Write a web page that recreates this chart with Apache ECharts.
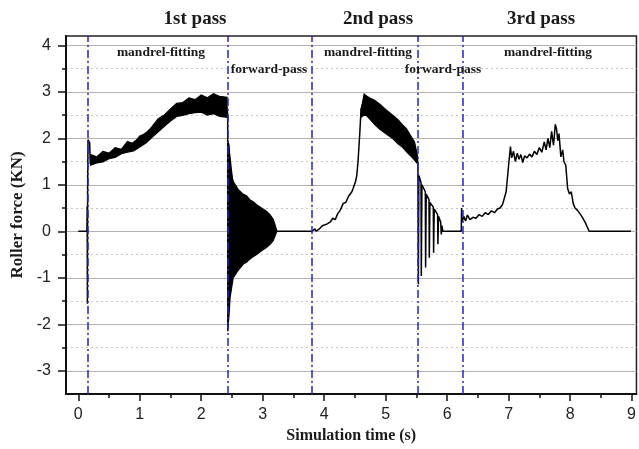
<!DOCTYPE html>
<html>
<head>
<meta charset="utf-8">
<script src="https://cdn.jsdelivr.net/npm/echarts@6/dist/echarts.min.js"></script>
<style>
  html, body { margin: 0; padding: 0; background: #fff; }
  #chart { width: 639px; height: 449px; }
</style>
</head>
<body>
<div id="chart"></div>
<script>
// main force trace, time (s) / force (kN)
const traceT = [0, 0.14, 0.145, 0.148, 0.152, 0.158, 0.185, 0.195,
  0.3, 0.79, 1.33, 1.8, 2.2, 2.42, 2.43, 2.432, 2.44, 2.6, 3.23,
  3.8, 3.85, 3.87, 3.92, 3.97, 4.0, 4.05, 4.1, 4.14, 4.18, 4.22, 4.26, 4.31, 4.35, 4.4, 4.45, 4.47, 4.51, 4.53, 4.55, 4.58, 4.6, 4.64,
  4.9, 5.23, 5.47, 5.52,
  5.525, 5.532, 5.54, 5.575, 5.58, 5.59, 5.645, 5.65, 5.66, 5.705, 5.71, 5.72, 5.775, 5.78, 5.79, 5.845, 5.85, 5.86, 5.895, 5.905, 5.915, 5.93,
  6.23, 6.235, 6.245, 6.27, 6.3, 6.33, 6.37, 6.42, 6.47, 6.52, 6.57, 6.62, 6.67, 6.72, 6.77, 6.82, 6.86, 6.9, 6.96, 7.0, 7.03,
  7.05, 7.08, 7.11, 7.14, 7.17, 7.2, 7.23, 7.26, 7.3, 7.34, 7.38, 7.42, 7.46, 7.5, 7.54, 7.58, 7.61, 7.64, 7.67, 7.7, 7.73, 7.76, 7.78, 7.8, 7.82, 7.85, 7.88, 7.9, 7.93,
  7.96, 7.99, 8.02, 8.05, 8.08, 8.12, 8.16, 8.2, 8.25, 8.31, 8.99];
const traceY = [0, 0, 0.55, -1.56, 1.0, 1.97, 1.9, 1.45,
  1.55, 1.8, 2.35, 2.7, 2.72, 2.65, 2.5, -2.15, 1.9, 0, 0,
  0, 0.05, 0, 0.05, 0.12, 0.08, 0.16, 0.2, 0.28, 0.25, 0.38, 0.45, 0.6, 0.62, 0.76, 0.85, 0.92, 1.07, 1.2, 1.49, 2.13, 2.63, 2.8,
  2.5, 2.06, 1.7, 1.5,
  1.35, -1.14, 1.2, 1.05, -0.96, 1.0, 0.85, -0.78, 0.8, 0.68, -0.57, 0.62, 0.52, -0.46, 0.48, 0.36, -0.28, 0.32, 0.2, -0.07, 0.12, 0,
  0, 0.5, 0.2, 0.32, 0.22, 0.35, 0.25, 0.3, 0.28, 0.36, 0.32, 0.4, 0.36, 0.44, 0.4, 0.48, 0.5, 0.57, 0.85, 1.42, 1.82,
  1.58, 1.72, 1.5, 1.68, 1.55, 1.65, 1.48, 1.62, 1.58, 1.66, 1.6, 1.72, 1.65, 1.8, 1.7, 1.92, 1.75, 2.0, 1.8, 2.15, 1.85, 2.3, 2.2, 1.95, 2.1, 1.6, 1.75, 1.5, 1.42,
  0.92, 0.8, 0.85, 0.6, 0.5, 0.45, 0.38, 0.3, 0.18, 0, 0];

// dense oscillation envelopes (upper / lower edge of the black bands)
const band1T = [0.2, 0.3, 0.4, 0.5, 0.6, 0.7, 0.8, 0.9, 1.0, 1.1, 1.2, 1.3, 1.4, 1.5, 1.6, 1.7, 1.8, 1.9, 2.0, 2.1, 2.2, 2.3, 2.42];
const band1Up = [1.65, 1.6, 1.72, 1.68, 1.8, 1.76, 1.93, 1.88, 2.05, 2.1, 2.25, 2.42, 2.5, 2.63, 2.75, 2.77, 2.87, 2.83, 2.93, 2.87, 2.96, 2.9, 2.88];
const band1Lo = [1.42, 1.47, 1.49, 1.56, 1.59, 1.67, 1.7, 1.73, 1.81, 1.9, 2.02, 2.14, 2.26, 2.37, 2.47, 2.49, 2.53, 2.55, 2.56, 2.5, 2.53, 2.47, 2.45];

const band2T = [2.43, 2.45, 2.47, 2.52, 2.6, 2.68, 2.74, 2.79, 2.85, 2.9, 2.98, 3.06, 3.12, 3.17, 3.2, 3.23];
const band2Up = [1.95, 1.85, 1.35, 1.07, 0.9, 0.8, 0.76, 0.68, 0.63, 0.57, 0.5, 0.43, 0.35, 0.26, 0.14, 0];
const band2Lo = [-2.13, -1.85, -1.42, -1.0, -0.84, -0.71, -0.66, -0.6, -0.54, -0.5, -0.42, -0.35, -0.28, -0.2, -0.1, 0];

const band3T = [4.6, 4.65, 4.69, 4.75, 4.82, 4.9, 5.0, 5.12, 5.2, 5.28, 5.34, 5.41, 5.47, 5.52];
const band3Up = [2.6, 2.95, 2.91, 2.86, 2.82, 2.74, 2.62, 2.49, 2.4, 2.28, 2.2, 2.05, 1.92, 1.6];
const band3Lo = [2.45, 2.5, 2.49, 2.4, 2.3, 2.2, 2.1, 1.99, 1.88, 1.8, 1.71, 1.62, 1.53, 1.45];

const passLines = [0.15, 2.43, 3.8, 5.53, 6.25];
const xMajor = [0, 1, 2, 3, 4, 5, 6, 7, 8, 9];
const xMinor = [0.5, 1.5, 2.5, 3.5, 4.5, 5.5, 6.5, 7.5, 8.5];
const yMajor = [-3, -2, -1, 0, 1, 2, 3, 4];
const yMinor = [-2.5, -1.5, -0.5, 0.5, 1.5, 2.5, 3.5];

const bands = [
  { t: band1T, up: band1Up, lo: band1Lo },
  { t: band2T, up: band2Up, lo: band2Lo },
  { t: band3T, up: band3Up, lo: band3Lo }
];

const chart = echarts.init(document.getElementById('chart'));
const serif = '"Liberation Serif", "DejaVu Serif", serif';
const sans = '"Liberation Sans", Arial, sans-serif';
const ink = '#1a1a1a';

function label(text, x, y, size) {
  return {
    type: 'text', x: x, y: y, z: 100,
    style: { text: text, font: 'bold ' + size + 'px ' + serif, fill: ink, align: 'center', verticalAlign: 'middle' }
  };
}

const option = {
  animation: false,
  grid: { left: 66, right: 2, top: 36, bottom: 52, show: true, borderColor: '#222', borderWidth: 1.5 },
  graphic: [
    label('1st pass', 195, 19, 19),
    label('2nd pass', 378, 19, 19),
    label('3rd pass', 541, 19, 19),
    label('mandrel-fitting', 161, 53, 13.5),
    label('forward-pass', 269, 70, 13.5),
    label('mandrel-fitting', 368, 53, 13.5),
    label('forward-pass', 443, 70, 13.5),
    label('mandrel-fitting', 548, 53, 13.5)
  ],
  xAxis: [{
    type: 'value', min: -0.2, max: 9.08, position: 'bottom',
    axisLine: { onZero: false, lineStyle: { color: '#111', width: 2 } },
    axisTick: { customValues: xMajor, length: 7, lineStyle: { color: '#111', width: 1.5 } },
    axisLabel: { customValues: xMajor, fontSize: 16, fontFamily: sans, color: '#222', margin: 13 },
    splitLine: { show: false },
    name: 'Simulation time (s)', nameLocation: 'middle', nameGap: 34,
    nameTextStyle: { fontFamily: serif, fontWeight: 'bold', fontSize: 16, color: ink }
  }, {
    type: 'value', min: -0.2, max: 9.08, position: 'bottom',
    axisLine: { show: false, onZero: false },
    axisTick: { customValues: xMinor, length: 4, lineStyle: { color: '#111', width: 1.5 } },
    axisLabel: { show: false },
    splitLine: { show: false }
  }],
  yAxis: [{
    type: 'value', min: -3.5, max: 4.2, splitNumber: 8, position: 'left',
    axisLine: { show: true, onZero: false, lineStyle: { color: '#111', width: 2 } },
    axisTick: { show: true, customValues: yMajor, length: 8, lineStyle: { color: '#111', width: 1.5 } },
    axisLabel: { customValues: yMajor, fontSize: 16, fontFamily: sans, color: '#222', margin: 15 },
    splitLine: { show: true, lineStyle: { color: '#b2b2b2', width: 1.2 } },
    name: 'Roller force (KN)', nameLocation: 'middle', nameGap: 34,
    nameTextStyle: { fontFamily: serif, fontWeight: 'bold', fontSize: 17, color: ink }
  }, {
    type: 'value', min: -3.5, max: 4.2, interval: 1, position: 'left',
    axisLine: { show: false, onZero: false },
    axisTick: { show: true, customValues: yMinor, length: 4, lineStyle: { color: '#111', width: 1.5 } },
    axisLabel: { show: false },
    splitLine: { show: true, lineStyle: { color: '#c6c6c6', width: 1, type: [2, 3] } }
  }],
  series: [{
    type: 'custom',
    xAxisIndex: 0, yAxisIndex: 0,
    data: bands.map(function (b) { return [b.t[0], b.up[0]]; }),
    renderItem: function (params, api) {
      const b = bands[params.dataIndex];
      const pts = [];
      for (let i = 0; i < b.t.length; i++) pts.push(api.coord([b.t[i], b.up[i]]));
      for (let i = b.t.length - 1; i >= 0; i--) pts.push(api.coord([b.t[i], b.lo[i]]));
      return { type: 'polygon', shape: { points: pts }, style: { fill: '#000', stroke: '#000', lineWidth: 1.2 } };
    },
    z: 3
  }, {
    type: 'line',
    xAxisIndex: 0, yAxisIndex: 0,
    data: traceT.map(function (t, i) { return [t, traceY[i]]; }),
    symbol: 'none',
    lineStyle: { color: '#000', width: 1.5 },
    z: 4,
    markLine: {
      silent: true,
      symbol: ['none', 'none'],
      label: { show: false },
      lineStyle: { color: '#2626c8', width: 1.5, type: [8, 3, 2, 3] },
      data: passLines.map(function (x) { return { xAxis: x }; })
    }
  }]
};

chart.setOption(option);
</script>
</body>
</html>
